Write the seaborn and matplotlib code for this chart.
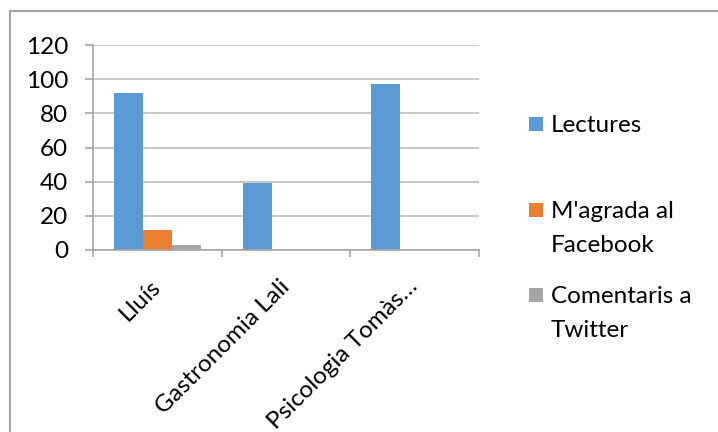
import matplotlib
matplotlib.use("Agg")
import matplotlib.pyplot as plt
from matplotlib.patches import Rectangle
import seaborn as sns
import pandas as pd

# data
categories = ["Lluís", "Gastronomia Lali", "Psicologia Tomàs…"]
series = ["Lectures", "M'agrada al Facebook", "Comentaris a Twitter"]
lectures = [92, 39, 97]
magrada = [12, 0, 0]
comentaris = [3, 0, 0]
legend_lines = [["Lectures"], ["M'agrada al", "Facebook"], ["Comentaris a", "Twitter"]]

colors = ["#5B9BD5", "#ED7D31", "#A5A5A5"]

df = pd.DataFrame({
    "categoria": categories * 3,
    "serie": [s for s in series for _ in categories],
    "valor": lectures + magrada + comentaris,
})

sns.set_theme(style="white")
plt.rcParams["font.family"] = ["Lato", "DejaVu Sans"]
fs = 17.5

W, H = 718, 432
fig = plt.figure(figsize=(W / 100, H / 100), dpi=100)
ax = fig.add_axes([93 / W, 1 - 250 / H, (479 - 93) / W, (250 - 45) / H])

sns.barplot(data=df, x="categoria", y="valor", hue="serie", order=categories,
            hue_order=series, palette=colors, width=0.675, linewidth=0,
            saturation=1, legend=False, ax=ax)

ax.set_xlim(-0.5, len(categories) - 0.5)
ax.set_ylim(0, 120)
ax.set_yticks(range(0, 121, 20))
ax.yaxis.grid(True, color="#BDBDBD", linewidth=1.2)
ax.set_axisbelow(True)
ax.set_xlabel("")
ax.set_ylabel("")

for side in ["top", "right"]:
    ax.spines[side].set_visible(False)
for side in ["left", "bottom"]:
    ax.spines[side].set_color("#A6A6A6")
    ax.spines[side].set_linewidth(1.2)

ax.tick_params(axis="y", length=6, width=1.2, color="#A6A6A6", pad=12,
               labelsize=fs, labelcolor="black", left=True)
ax.set_xticks([i - 0.5 for i in range(len(categories) + 1)], minor=True)
ax.tick_params(axis="x", which="minor", length=5, width=1.2, color="#A6A6A6", bottom=True)
ax.tick_params(axis="x", which="major", length=0, pad=24, labelsize=fs, labelcolor="black")
for lab in ax.get_xticklabels():
    lab.set_rotation(45)
    lab.set_ha("right")
    lab.set_va("center")
    lab.set_rotation_mode("anchor")

# legend drawn beside the plot, one square per series
first_base = [132, 218, 303]
for color, lines, base in zip(colors, legend_lines, first_base):
    fig.patches.append(Rectangle((529 / W, 1 - (base - 1) / H), 14 / W, 14 / H,
                                 transform=fig.transFigure, facecolor=color,
                                 edgecolor="none"))
    for k, line in enumerate(lines):
        fig.text(551 / W, 1 - (base + 34 * k) / H, line, fontsize=fs,
                 va="baseline", ha="left", color="black")

# chart area border
fig.patches.append(Rectangle((10 / W, -0.2), 1.2, 1.2 - 11 / H,
                             transform=fig.transFigure, fill=False,
                             edgecolor="#A6A6A6", linewidth=1.5))

fig.savefig("out.png", dpi=100)
